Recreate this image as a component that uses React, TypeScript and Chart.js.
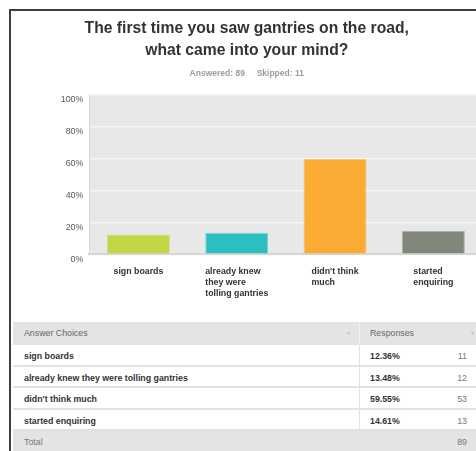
import React, { useEffect, useRef } from 'react';
import { Chart, registerables } from 'chart.js';

Chart.register(...registerables);

// ---- data ----
const titleLines = ['The first time you saw gantries on the road,', 'what came into your mind?'];
const answered = 89;
const skipped = 11;
const categories = ['sign boards', 'already knew they were tolling gantries', "didn't think much", 'started enquiring'];
const tickLabels = [['sign boards'], ['already knew', 'they were', 'tolling gantries'], ["didn't think", 'much'], ['started', 'enquiring']];
const percentages = [12.36, 13.48, 59.55, 14.61];
const counts = [11, 12, 53, 13];
const total = 89;
const yTicks = ['0%', '20%', '40%', '60%', '80%', '100%'];
const barColors = ['#c4d544', '#2bbfbf', '#f9ab33', '#82877c'];
const barBorders = ['#d6e283', '#7fd6d6', '#fbc777', '#aeb1a9'];

const FONT = "'Liberation Sans', Arial, Helvetica, sans-serif";
const TICK_FONT = { family: FONT, size: 8.8, weight: 'bold', lineHeight: '11px' };

const bgPlugin = {
  id: 'plotBg',
  beforeDraw(chart: any) {
    const { ctx, chartArea } = chart;
    if (!chartArea) return;
    ctx.save();
    ctx.fillStyle = '#e8e8e8';
    ctx.fillRect(chartArea.left, chartArea.top, chartArea.right - chartArea.left, chartArea.bottom - chartArea.top);
    ctx.restore();
  },
};

// Multi-line category labels: lines left-aligned, block centred on the category.
const blockLabelPlugin = {
  id: 'blockLabels',
  beforeDraw(chart: any) {
    const scale = chart.scales.x;
    if (!scale) return;
    const ctx = chart.ctx;
    ctx.save();
    ctx.font = `bold ${TICK_FONT.size}px ${FONT}`;
    const items = scale.getLabelItems();
    items.forEach((item: any, i: number) => {
      const lines: string[] = Array.isArray(item.label) ? item.label : [item.label];
      const w = Math.max(...lines.map((l) => ctx.measureText(l).width));
      item.options.translation[0] = scale.getPixelForTick(i) - w / 2;
      item.options.textAlign = 'left';
    });
    ctx.restore();
  },
};

function Arrow({ left }: { left: number }) {
  return <span style={{ position: 'absolute', left, top: 8, fontSize: 5, color: '#bdbdbd' }}>▼</span>;
}

export default function App() {
  const ref = useRef<HTMLCanvasElement>(null);

  useEffect(() => {
    const chart = new Chart(ref.current!, {
      type: 'bar',
      data: {
        labels: tickLabels,
        datasets: [
          {
            data: percentages,
            backgroundColor: barColors,
            borderColor: barBorders,
            borderWidth: 1,
            barPercentage: 0.641,
            categoryPercentage: 1,
          },
        ],
      },
      options: {
        animation: false,
        responsive: false,
        layout: { padding: { left: 0, right: 5.5, top: 0, bottom: 11.7 } },
        plugins: {
          legend: { display: false },
          tooltip: { enabled: false },
          title: {
            display: true,
            text: titleLines,
            color: '#333333',
            font: { family: FONT, size: 15.7, weight: 'bold', lineHeight: '22px' },
            padding: { top: 7, bottom: 0 },
          },
          subtitle: {
            display: true,
            text: `Answered: ${answered}     Skipped: ${skipped}`,
            color: '#9c9c9c',
            font: { family: FONT, size: 8.5, weight: 'bold', lineHeight: '12px' },
            padding: { top: 6, bottom: 14.3 },
          },
        },
        scales: {
          x: {
            grid: { display: false, drawTicks: false },
            border: { color: '#d6d6d6', width: 2 },
            ticks: {
              font: TICK_FONT,
              color: '#333333',
              padding: 12,
              align: 'start',
              maxRotation: 0,
              autoSkip: false,
            },
            afterFit: (s: any) => {
              s.height = 45;
            },
          },
          y: {
            min: 0,
            max: 100,
            grid: { color: '#f6f6f6', lineWidth: 1.5, drawTicks: false },
            border: { color: '#d8d8d8', width: 1 },
            ticks: {
              stepSize: 20,
              callback: (_v: any, i: number) => yTicks[i],
              font: { family: FONT, size: 8.8 },
              color: '#555555',
              padding: 6,
              labelOffset: 5,
            },
            afterFit: (s: any) => {
              s.width = 78.3;
            },
          },
        },
      },
      plugins: [bgPlugin, blockLabelPlugin],
    } as any);
    return () => chart.destroy();
  }, []);

  const cellText: React.CSSProperties = { fontFamily: FONT, fontSize: 8.8 };
  const rowH = 21.5;

  return (
    <div style={{ position: 'fixed', left: 0, top: 0, width: 476, height: 451, overflow: 'hidden', background: '#fff' }}>
      <div
        style={{
          position: 'absolute',
          left: 9,
          top: 9,
          width: 520,
          height: 500,
          borderLeft: '2px solid #3e3e3e',
          borderTop: '2px solid #3e3e3e',
          background: '#fff',
        }}
      />
      <canvas
        ref={ref}
        width={477}
        height={300}
        style={{ position: 'absolute', left: 11, top: 11, width: 477, height: 300 }}
      />
      <div style={{ position: 'absolute', left: 13, top: 322, width: 470 }}>
        <div style={{ position: 'relative', height: 23, background: '#e4e4e4', color: '#666', ...cellText }}>
          <span style={{ position: 'absolute', left: 11, top: 6 }}>Answer Choices</span>
          <Arrow left={333} />
          <div style={{ position: 'absolute', left: 346, top: 0, width: 1, height: 23, background: '#f0f0f0' }} />
          <span style={{ position: 'absolute', left: 357, top: 6 }}>Responses</span>
          <Arrow left={457} />
        </div>
        {categories.map((c, i) => (
          <div
            key={c}
            style={{
              position: 'relative',
              height: rowH,
              boxSizing: 'border-box',
              borderBottom: '2px solid #e2e2e2',
              background: '#fff',
              ...cellText,
            }}
          >
            <span style={{ position: 'absolute', left: 11, top: 6, fontWeight: 'bold', color: '#333' }}>{c}</span>
            <div style={{ position: 'absolute', left: 346, top: 0, width: 1, height: rowH, background: '#e2e2e2' }} />
            <span style={{ position: 'absolute', left: 357, top: 6, fontWeight: 'bold', color: '#333' }}>
              {percentages[i].toFixed(2)}%
            </span>
            <span style={{ position: 'absolute', right: 16, top: 6, color: '#777' }}>{counts[i]}</span>
          </div>
        ))}
        <div style={{ position: 'relative', height: 22, background: '#e4e4e4', color: '#777', ...cellText }}>
          <span style={{ position: 'absolute', left: 11, top: 6 }}>Total</span>
          <span style={{ position: 'absolute', right: 16, top: 6 }}>{total}</span>
        </div>
      </div>
    </div>
  );
}
